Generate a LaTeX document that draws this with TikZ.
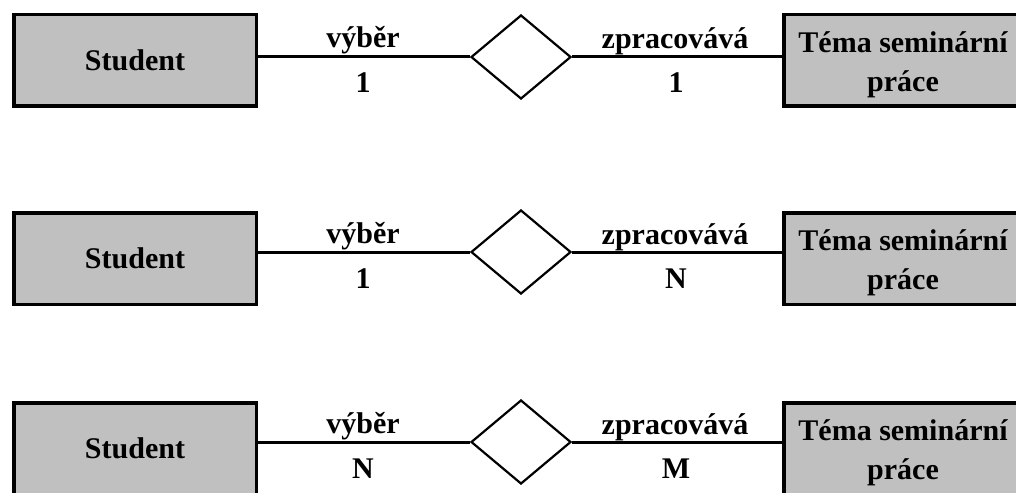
\documentclass[tikz,border=0pt]{standalone}
\usepackage{fontspec}
\setmainfont{Liberation Serif}
\usetikzlibrary{shapes.geometric}
\definecolor{boxgray}{HTML}{C0C0C0}
\begin{document}
\begin{tikzpicture}[x=1pt, y=-1pt,
  entity/.style={draw=black, line width=3.5pt, fill=boxgray, inner sep=0pt,
    minimum height=91.5pt, font=\bfseries\fontsize{30}{39}\selectfont,
    align=center, text=black},
  title/.style={font=\bfseries\fontsize{30}{39}\selectfont, align=center,
    text=black, inner sep=0pt},
  relation/.style={draw=black, line width=2.2pt, fill=white, shape=diamond,
    inner sep=0pt, minimum width=100pt, minimum height=84pt},
  link/.style={draw=black, line width=3pt},
  lab/.style={font=\bfseries\fontsize{30}{36}\selectfont, text=black,
    inner sep=0pt, anchor=base}
]
\useasboundingbox (0,0) rectangle (1016,492);
\clip (0,0) rectangle (1016,492);

% one row per cardinality: index / connector height / box top / left label / right label
\foreach \i/\L/\T/\ca/\cb in {1/57/13/1/1, 2/252/211/1/N, 3/442/401/N/M}{
  \node[entity, minimum width=242.5pt] (stu\i) at (135, \T+47.5) {Student};
  % the topic box runs on past the right margin
  \node[entity, minimum width=250pt] (tema\i) at (908.75, \T+47.5) {};
  \node[title] (temat\i) at (903, \T+52) {Téma seminární\\práce};
  \node[relation] (rel\i) at (521, \L) {};

  \draw[link] (stu\i.east |- rel\i.west) -- (rel\i.west);
  \draw[link] (rel\i.east) -- (tema\i.west |- rel\i.east);

  \node[lab] (vyb\i) at (363, \L-9) {výběr};
  \node[lab] (ka\i) at (363, \L+36) {\ca};
  \node[lab] (zpr\i) at (675, \L-8) {zpracovává};
  \node[lab] (kb\i) at (676, \L+36) {\cb};
}
\end{tikzpicture}
\end{document}
